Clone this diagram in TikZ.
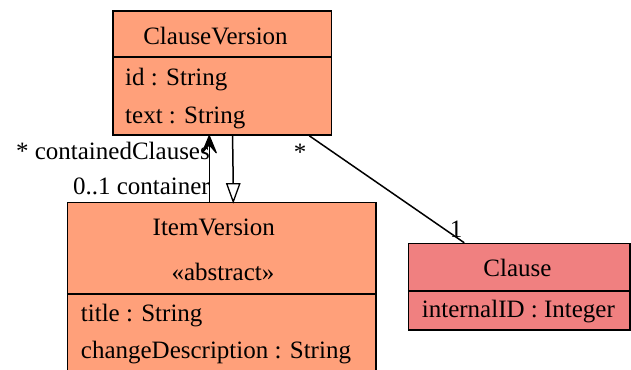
\documentclass[tikz,border=0pt]{standalone}
\usepackage{fontspec}
\setmainfont{Liberation Serif}
\usetikzlibrary{calc}
\definecolor{salmonfill}{HTML}{FFA07A}
\definecolor{coralfill}{HTML}{F08080}
\begin{document}
\begin{tikzpicture}[x=1pt,y=-1pt,
  classbox/.style={draw=black,line width=1.5pt,inner sep=0pt,rectangle},
  txt/.style={inner sep=0pt,font=\fontsize{25}{30}\selectfont},
  conn/.style={draw=black,line width=1.5pt},
  veehead/.style={fill=black,draw=black,line width=1.2pt,line join=round},
  openhead/.style={fill=white,draw=black,line width=1.3pt,line join=miter}]
\useasboundingbox (0,0) rectangle (631,369);
\clip (0,0) rectangle (631,369);

% class boxes
\node[classbox,fill=salmonfill,minimum width=218.5pt,minimum height=124pt] (cv) at (222.25,73) {};
\node[classbox,fill=salmonfill,minimum width=308.5pt,minimum height=190pt] (iv) at (221.75,297.5) {};
\node[classbox,fill=coralfill,minimum width=221.5pt,minimum height=86.5pt] (cl) at (519.25,286.75) {};

% compartment dividers
\draw[line width=1.5pt] ([yshift=-47pt]cv.north west) -- ([yshift=-47pt]cv.north east);
\draw[line width=1.5pt] ([yshift=-92pt]iv.north west) -- ([yshift=-92pt]iv.north east);
\draw[line width=1.5pt] ([yshift=-48pt]cl.north west) -- ([yshift=-48pt]cl.north east);

% ClauseVersion
\node[txt,anchor=base] (cvname) at (215.5,45) {ClauseVersion};
\node[txt,anchor=base west] (cvid) at (125,85) {id : String};
\node[txt,anchor=base west] (cvtext) at (125,123) {text : String};

% ItemVersion
\node[txt,anchor=base] (ivname) at (213.8,235) {ItemVersion};
\node[txt,anchor=base] (ivstereo) at (223,280.7) {«abstract»};
\node[txt,anchor=base west] (ivtitle) at (80.7,321.7) {title : String};
\node[txt,anchor=base west] (ivdesc) at (80.7,358) {changeDescription : String};

% Clause
\node[txt,anchor=base] (clname) at (517.5,276.7) {Clause};
\node[txt,anchor=base west] (clid) at (421.7,317.3) {internalID : Integer};

% connector end points on the class borders
\coordinate (navfrom) at ([xshift=142.5pt]iv.north west);
\coordinate (navto) at ([xshift=97pt]cv.south west);
\coordinate (genfrom) at ([xshift=120.3pt]cv.south west);
\coordinate (gento) at ([xshift=166.5pt]iv.north west);

% navigable association container -> containedClauses
\draw[conn] (navfrom) -- ($(navto)+(0,8)$);
\path[veehead] (navto) -- ($(navto)+(7,17)$) -- ($(navto)+(0,9)$) -- ($(navto)+(-7,17)$) -- cycle;

% generalization with hollow triangle
\draw[conn] (genfrom) -- ($(gento)+(0,-18)$);
\path[openhead] (gento) -- ($(gento)+(6.5,-18)$) -- ($(gento)+(-6.5,-18)$) -- cycle;

% association to Clause
\draw[conn] ([xshift=197pt]cv.south west) -- ([xshift=56.5pt]cl.north west);

% role and multiplicity labels
\node[txt,anchor=base east] (lcont) at (210,159) {* containedClauses};
\node[txt,anchor=base east] (lcontainer) at (210,194) {0..1 container};
\node[txt,anchor=base] (lstar) at (300,160) {*};
\node[txt,anchor=base] (lone) at (456,237) {1};
\end{tikzpicture}
\end{document}
